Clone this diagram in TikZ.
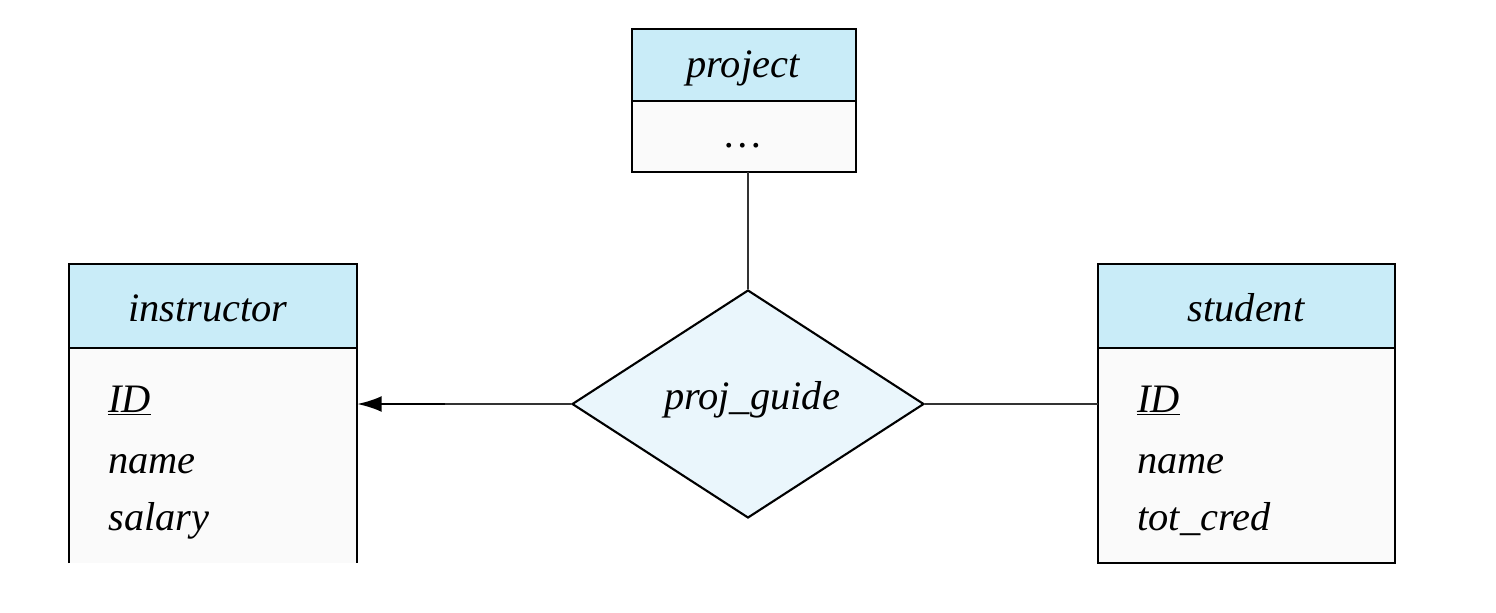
\documentclass[tikz,border=0pt]{standalone}
\usepackage{fontspec}
\setmainfont{Liberation Serif}
\usetikzlibrary{shapes.geometric,arrows.meta}
\definecolor{hdr}{HTML}{C9ECF8}
\definecolor{dia}{HTML}{EAF6FC}
\begin{document}
\begin{tikzpicture}[x=0.02cm,y=-0.02cm,
  box/.style={draw=black,line width=1.3pt},
  lbl/.style={font=\fontsize{23}{27}\selectfont\itshape,inner sep=0pt},
  att/.style={lbl,anchor=base west},
  ln/.style={line width=1pt,draw=black!80}]
\useasboundingbox (0,0) rectangle (1496,612);
% project
\fill[hdr] (632,29) rectangle (856,101);
\fill[white!98!black] (632,101) rectangle (856,172);
\draw[box] (632,29) rectangle (856,172);
\draw[box] (632,101) -- (856,101);
\node[lbl] (ph) at (743,68) {project};
\node[lbl] at (743,146) {\ldots};
\coordinate (pb) at (748,172);
% instructor
\fill[hdr] (69,264) rectangle (357,348);
\fill[white!98!black] (69,348) rectangle (357,563);
\draw[box] (69,563) -- (69,264) -- (357,264) -- (357,563);
\draw[box] (69,348) -- (357,348);
\node[lbl] (ih) at (208,308) {instructor};
\node[att] at (108,412) {\underline{ID}};
\node[att] at (108,473) {name};
\node[att] at (108,530) {salary};
\coordinate (ir) at (357,404);
% student
\fill[hdr] (1098,264) rectangle (1395,348);
\fill[white!98!black] (1098,348) rectangle (1395,563);
\draw[box] (1098,264) rectangle (1395,563);
\draw[box] (1098,348) -- (1395,348);
\node[lbl] (sh) at (1246,308) {student};
\node[att] at (1137,412) {\underline{ID}};
\node[att] at (1137,473) {name};
\node[att] at (1137,530) {tot\_cred};
\coordinate (sl) at (1098,404);
% diamond
\node[diamond,draw=black,line width=1.2pt,fill=dia,minimum width=7.04cm,minimum height=4.56cm,inner sep=0pt] (d) at (748,404) {};
\node[lbl] at (752,400) {proj\_guide};
\coordinate (mid) at (445,404);
\draw[ln] (pb) -- (d.north);
\draw[ln] (d.east) -- (sl);
\draw[ln] (d.west) -- (mid);
\draw[line width=1.5pt,-{Latex[length=14pt,width=9pt]}] (mid) -- (ir);
\end{tikzpicture}
\end{document}
